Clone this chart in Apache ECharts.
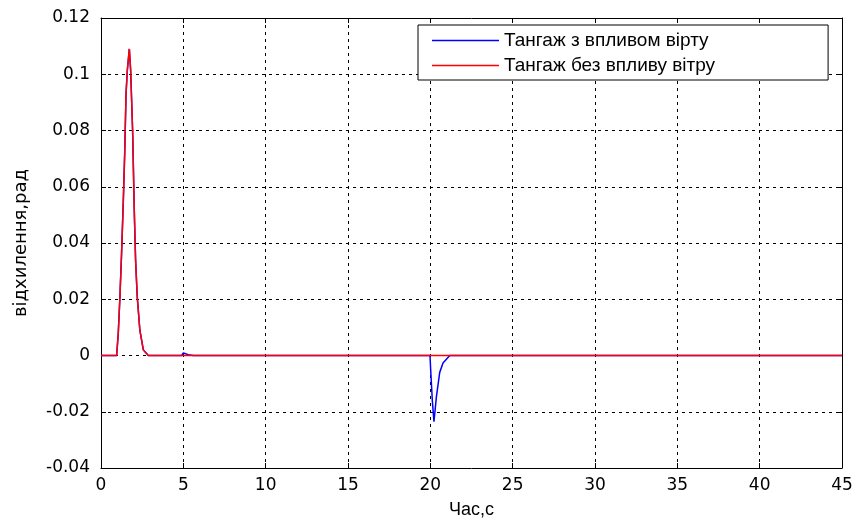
<!DOCTYPE html>
<html>
<head>
<meta charset="utf-8">
<script src="https://cdn.jsdelivr.net/npm/echarts@6/dist/echarts.min.js"></script>
<style>
html,body{margin:0;padding:0;background:#fff;}
#chart{width:856px;height:519px;}
</style>
</head>
<body>
<div id="chart"></div>
<script>
// Series names (legend)
const seriesNames = ['Тангаж з впливом вірту', 'Тангаж без впливу вітру'];
// Time points and values, wind-affected pitch (blue)
const tBlue = [0, 0.95, 1.05, 1.15, 1.25, 1.35, 1.44, 1.52, 1.6, 1.72, 1.8, 1.92, 2.02, 2.1, 2.2, 2.36, 2.57, 2.87,
               4.9, 5.0, 5.3, 5.6,
               19.98, 20.02, 20.12, 20.22, 20.37, 20.57, 20.77, 21.18, 45];
const vBlue = [0, 0, 0.008, 0.0209, 0.0364, 0.054, 0.072, 0.093, 0.1015, 0.109, 0.1015, 0.080, 0.0517, 0.034, 0.021, 0.009, 0.002, 0,
               0, 0.0009, 0.0003, 0,
               0, -0.005, -0.016, -0.0235, -0.0146, -0.006, -0.0027, 0, 0];
// Time points and values, pitch without wind (red)
const tRed = [0, 0.95, 1.05, 1.15, 1.25, 1.35, 1.44, 1.52, 1.6, 1.72, 1.8, 1.92, 2.02, 2.1, 2.2, 2.36, 2.57, 2.87, 45];
const vRed = [0, 0, 0.008, 0.0209, 0.0364, 0.054, 0.072, 0.093, 0.1015, 0.109, 0.1015, 0.080, 0.0517, 0.034, 0.021, 0.009, 0.002, 0, 0];
// Axis ranges
const xRange = [0, 45, 5];
const yRange = [-0.04, 0.12, 0.02];
const xName = 'Час,с';
const yName = 'відхилення,рад';

const zip = (t, v) => t.map((x, i) => [x, v[i]]);
const labelFont = {color: '#000', fontSize: 17, fontFamily: 'DejaVu Sans, sans-serif'};
const narrowFont = 'Liberation Sans Narrow, Arial Narrow, Liberation Sans, sans-serif';
const gridLine = {show: true, lineStyle: {color: '#000', type: [3, 4], width: 1}};

const chart = echarts.init(document.getElementById('chart'), null, {renderer: 'canvas'});
chart.setOption({
  animation: false,
  backgroundColor: '#fff',
  grid: {left: 101, right: 14, top: 18, bottom: 51, containLabel: false, outerBoundsMode: 'none'},
  legend: {
    show: true,
    orient: 'vertical',
    left: 418, top: 25,
    data: seriesNames.map(n => ({name: n, icon: 'rect'})),
    itemWidth: 67, itemHeight: 1.5,
    itemGap: 6,
    padding: [6, 113, 5, 14],
    backgroundColor: '#fff',
    borderColor: '#000', borderWidth: 1,
    textStyle: {color: '#000', fontSize: 19, fontFamily: narrowFont}
  },
  xAxis: [{
    type: 'value', min: xRange[0], max: xRange[1], interval: xRange[2],
    name: xName, nameLocation: 'middle', nameGap: 33,
    nameTextStyle: {color: '#000', fontSize: 18, fontFamily: narrowFont},
    axisLine: {onZero: false, lineStyle: {color: '#000', width: 1}},
    axisTick: {inside: true, length: 5, lineStyle: {color: '#000'}},
    axisLabel: Object.assign({margin: 9}, labelFont),
    splitLine: gridLine
  }, {
    type: 'value', position: 'top', min: xRange[0], max: xRange[1], interval: xRange[2],
    axisLine: {onZero: false, lineStyle: {color: '#000', width: 1}},
    axisTick: {inside: true, length: 5, lineStyle: {color: '#000'}},
    axisLabel: {show: false}, splitLine: {show: false}
  }],
  yAxis: [{
    type: 'value', min: yRange[0], max: yRange[1], interval: yRange[2],
    name: yName, nameLocation: 'middle', nameGap: 71, nameRotate: 90,
    nameTextStyle: {color: '#000', fontSize: 18, fontFamily: 'DejaVu Sans, sans-serif'},
    axisLine: {onZero: false, lineStyle: {color: '#000', width: 1}},
    axisTick: {inside: true, length: 5, lineStyle: {color: '#000'}},
    axisLabel: Object.assign({margin: 11}, labelFont),
    splitLine: gridLine
  }, {
    type: 'value', position: 'right', min: yRange[0], max: yRange[1], interval: yRange[2],
    axisLine: {onZero: false, lineStyle: {color: '#000', width: 1}},
    axisTick: {inside: true, length: 5, lineStyle: {color: '#000'}},
    axisLabel: {show: false}, splitLine: {show: false}
  }],
  series: [{
    name: seriesNames[0], type: 'line', symbol: 'none',
    data: zip(tBlue, vBlue),
    lineStyle: {color: '#0000ff', width: 1.5},
    itemStyle: {color: '#0000ff'}, z: 2
  }, {
    name: seriesNames[1], type: 'line', symbol: 'none',
    data: zip(tRed, vRed),
    lineStyle: {color: '#ff0000', width: 1.5},
    itemStyle: {color: '#ff0000'}, z: 3
  }]
});
</script>
</body>
</html>
